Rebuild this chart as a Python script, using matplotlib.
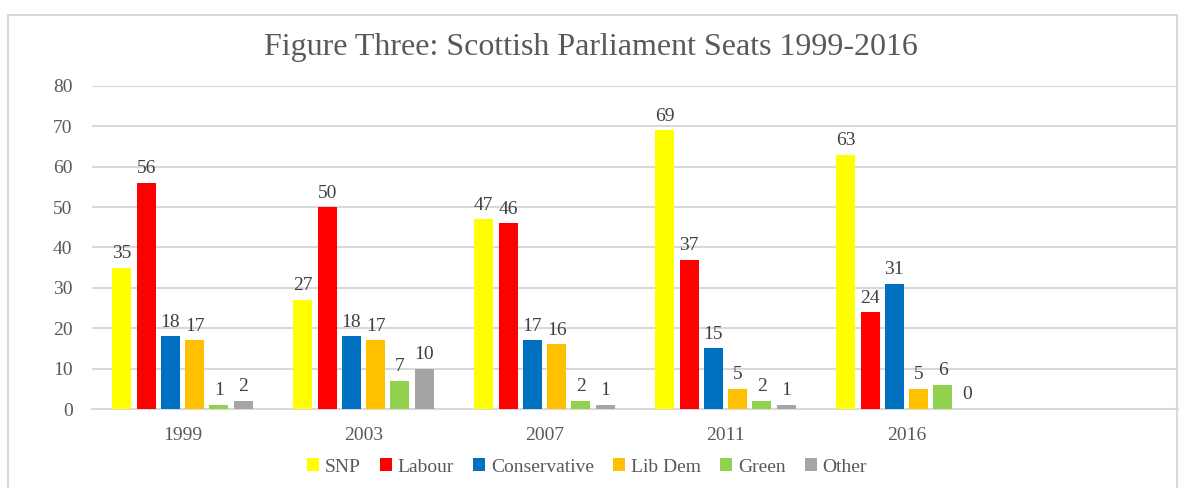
import matplotlib.pyplot as plt
import numpy as np
from matplotlib.patches import Rectangle

years = ["1999", "2003", "2007", "2011", "2016"]
parties = ["SNP", "Labour", "Conservative", "Lib Dem", "Green", "Other"]
snp = [35, 27, 47, 69, 63]
labour = [56, 50, 46, 37, 24]
conservative = [18, 18, 17, 15, 31]
lib_dem = [17, 17, 16, 5, 5]
green = [1, 7, 2, 2, 6]
other = [2, 10, 1, 1, 0]
series = [snp, labour, conservative, lib_dem, green, other]
colors = ["#ffff00", "#ff0000", "#0070c0", "#ffc000", "#92d050", "#a5a5a5"]

plt.rcParams["font.family"] = ["Liberation Serif", "DejaVu Serif"]

W, H = 1181, 488
fig = plt.figure(figsize=(W / 100, H / 100), dpi=100)
ax = fig.add_axes([92 / W, (H - 409) / H, (1178 - 92) / W, (409 - 86) / H])

# chart border (cropped at the bottom in the reference)
fig.patches.append(Rectangle((8 / W, -0.1), (1177 - 8) / W, 1.1 - 15 / H,
                             transform=fig.transFigure, fill=False,
                             edgecolor="#d9d9d9", linewidth=1.5))

x = np.arange(len(years))
pitch = 0.134
width = 0.105
for i, (name, vals, col) in enumerate(zip(parties, series, colors)):
    pos = x + (i - 2.5) * pitch
    bars = ax.bar(pos, vals, width=width, color=col, label=name, zorder=3)
    ax.bar_label(bars, padding=4, fontsize=14, color="#404040")

# one empty category slot on the right, as in the original
ax.set_xlim(-0.5, 5.5)
ax.set_ylim(0, 80)
ax.set_yticks(range(0, 81, 10))
ax.set_xticks(range(6))
ax.set_xticklabels(years + [""])
ax.tick_params(axis="both", length=0, labelsize=14, colors="#595959")
ax.tick_params(axis="y", pad=14)
ax.tick_params(axis="x", pad=13)
ax.grid(axis="y", color="#d9d9d9", linewidth=1.5, zorder=0)
for side in ["top", "right", "left"]:
    ax.spines[side].set_visible(False)
ax.spines["bottom"].set_color("#d9d9d9")
ax.spines["bottom"].set_linewidth(1.5)

fig.text(591 / W, (H - 48) / H, "Figure Three: Scottish Parliament Seats 1999-2016",
         ha="center", va="center", fontsize=23, color="#595959")

fig.legend(loc="center", bbox_to_anchor=(587 / W, (H - 467) / H), ncol=6,
           frameon=False, fontsize=14, labelcolor="#595959",
           handlelength=0.6, handleheight=0.6, handletextpad=0.3, columnspacing=1.0)

fig.savefig("out.png", dpi=100)
